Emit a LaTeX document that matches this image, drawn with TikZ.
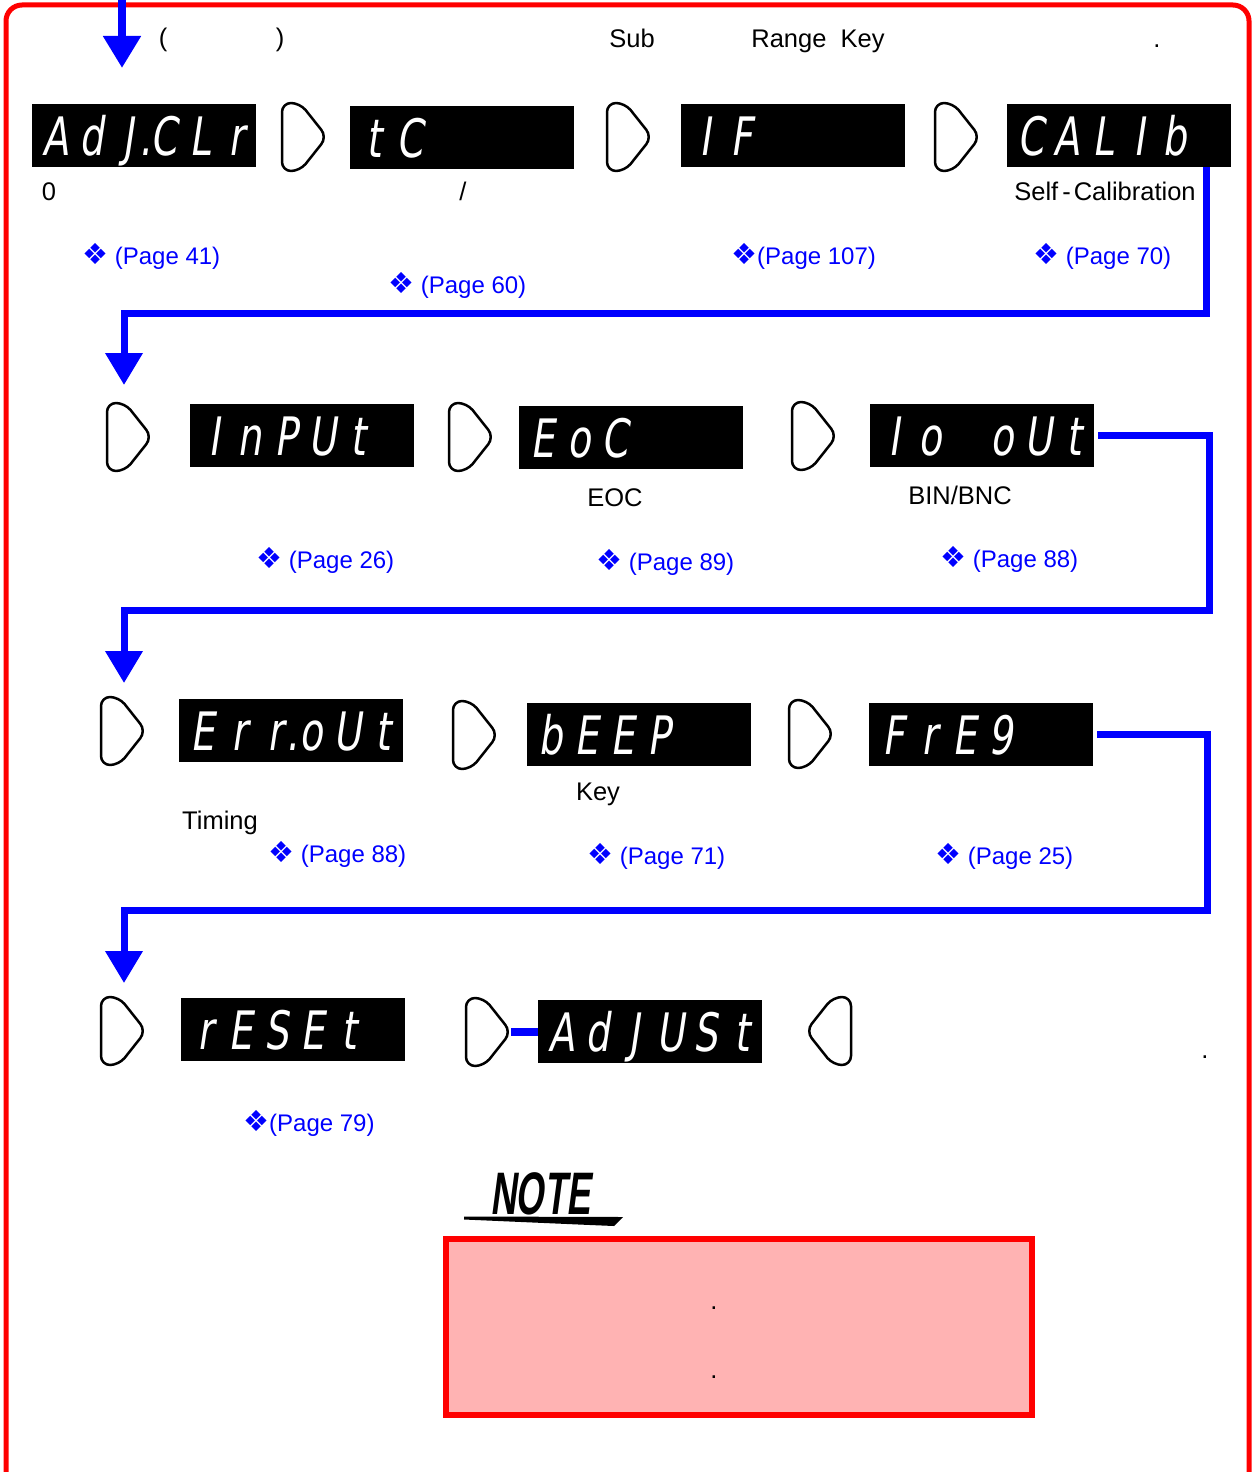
\documentclass[tikz,border=0pt]{standalone}
\usepackage{fontspec}
\setmainfont{Liberation Sans}
\newfontfamily\segfont{DejaVu Sans}[FakeSlant=0.15,FakeStretch=0.72]
\newfontfamily\symfont{DejaVu Sans}
\newfontfamily\notefont{Liberation Sans}[FakeSlant=0.22]
\usetikzlibrary{arrows.meta}
\definecolor{pblue}{RGB}{0,0,255}
\definecolor{pred}{RGB}{255,0,0}
\definecolor{ppink}{RGB}{255,179,179}
\def\sgl#1{\ifx#1\relax\else\ifx#1.\makebox[0pt][c]{.}\else\makebox[36pt][c]{#1}\fi\expandafter\sgl\fi}
\newcommand\segtxt[1]{\sgl#1\relax}
\newcommand\dia{{\symfont\fontsize{29}{29}\selectfont ❖}}
\begin{document}
\begin{tikzpicture}[x=1pt,y=-1pt,
  disp/.style={fill=black,text=white,anchor=north west,minimum width=224pt,minimum height=63pt,
    inner xsep=6pt,inner ysep=0pt,outer sep=0pt,text width=212pt,align=left,
    font=\segfont\fontsize{53}{53}\selectfont,text height=39pt,text depth=0pt},
  lbl/.style={anchor=base,inner sep=0pt,font=\fontsize{25.5}{28}\selectfont},
  pagelbl/.style={anchor=base west,inner sep=0pt,text=pblue,font=\fontsize{24}{28}\selectfont},
  flow/.style={draw=pblue,line width=7pt,-{Triangle[width=36pt,length=32pt]}},
  pentline/.style={line width=2.5pt,rounded corners=9pt,line join=round},
  pentR/.pic={\draw[pentline] (0,0) -- (18,0) -- (45,34) -- (18,68) -- (0,68) -- cycle;
    \coordinate (-tip) at (45,34);},
  pentL/.pic={\draw[pentline] (45,0) -- (27,0) -- (0,34) -- (27,68) -- (45,68) -- cycle;},
]
\useasboundingbox (0,0) rectangle (1255,1472);

% outer frame
\draw[pred,line width=5pt,rounded corners=16pt] (6,1490) -- (6,5) -- (1249,5) -- (1249,1490);

% top texts
\node[lbl] (lp) at (163,47) {(};
\node[lbl] (rp) at (280,47) {)};
\node[lbl] (sub) at (632,48) {Sub};
\node[lbl] (rk) at (818,48) {Range\ \ Key};
\node[lbl] (dot1) at (1157,48) {.};

% entry arrow
\coordinate (entry) at (122,-4);
\coordinate (adjin) at (122,68);
\draw[flow,line width=8pt] (entry) -- (adjin);

% row 1
\node[disp] (adjclr) at (32,104) {\segtxt{AdJ.CLr}};
\pic (p1) at (282,103) {pentR};
\node[disp] (tc) at (350,106) {\segtxt{tC}};
\pic (p2) at (607,103) {pentR};
\node[disp] (if) at (681,104) {\segtxt{IF}};
\pic (p3) at (935,103) {pentR};
\node[disp] (calib) at (1007,104) {\segtxt{CALIb}};

\node[lbl] (l0) at (49,200) {0};
\node[lbl] (lsl) at (463,200) {/};
\node[lbl] (lsc) at (1105,200) {Self\hspace{4pt}-\hspace{3pt}Calibration};
\node[pagelbl] (pg41) at (82,264) {\dia\ (Page 41)};
\node[pagelbl] (pg60) at (388,293) {\dia\ (Page 60)};
\node[pagelbl] (pg107) at (731,264) {\dia(Page 107)};
\node[pagelbl] (pg70) at (1033,264) {\dia\ (Page 70)};

% connector 1
\coordinate (r2in) at (124,385);
\draw[flow] ([xshift=-25pt]calib.south east) -- ++(0,146) -| (r2in);

% row 2
\pic (p4) at (107,403) {pentR};
\node[disp] (input) at (190,404) {\segtxt{InPUt}};
\pic (p5) at (449,403) {pentR};
\node[disp] (eoc) at (519,406) {\segtxt{EoC}};
\pic (p6) at (792,402) {pentR};
\node[disp] (ioout) at (870,404) {\segtxt{Io~oUt}};

\node[lbl] (leoc) at (615,506) {EOC};
\node[lbl] (lbin) at (960,504) {BIN/BNC};
\node[pagelbl] (pg26) at (256,568) {\dia\ (Page 26)};
\node[pagelbl] (pg89) at (596,570) {\dia\ (Page 89)};
\node[pagelbl] (pg88a) at (940,567) {\dia\ (Page 88)};

% connector 2
\coordinate (r3in) at (124,683);
\draw[flow] ([xshift=4pt]ioout.east) -- ++(111,0) -- ++(0,174.5) -| (r3in);

% row 3
\pic (p7) at (101,697) {pentR};
\node[disp] (errout) at (179,699) {\segtxt{Err.oUt}};
\pic (p8) at (453,701) {pentR};
\node[disp] (beep) at (527,703) {\segtxt{bEEP}};
\pic (p9) at (789,700) {pentR};
\node[disp] (freq) at (869,703) {\segtxt{FrE9}};

\node[lbl] (lkey) at (598,800) {Key};
\node[lbl] (ltim) at (220,829) {Timing};
\node[pagelbl] (pg88b) at (268,862) {\dia\ (Page 88)};
\node[pagelbl] (pg71) at (587,864) {\dia\ (Page 71)};
\node[pagelbl] (pg25) at (935,864) {\dia\ (Page 25)};

% connector 3
\coordinate (r4in) at (124,983);
\draw[flow] ([xshift=4pt]freq.east) -- ++(110,0) -- ++(0,176) -| (r4in);

% row 4
\pic (p10) at (101,997) {pentR};
\node[disp] (reset) at (181,998) {\segtxt{rESEt}};
\pic (p11) at (466,998) {pentR};
\node[disp] (adjust) at (538,1000) {\segtxt{AdJUSt}};
\pic (pl) at (806,997) {pentL};
\draw[draw=pblue,line width=8pt] (p11-tip) -- (p11-tip -| adjust.west);
\node[lbl] (dot2) at (1205,1058) {.};
\node[pagelbl] (pg79) at (243,1131) {\dia(Page 79)};

% NOTE
\node[inner sep=0pt] (note) at (540,1194) {\scalebox{0.6}[1]{\notefont\bfseries\fontsize{60}{60}\selectfont NOTE}};
\fill (464,1216.5) -- (623,1217) -- (614,1226) -- (590,1225) -- (464,1219.5) -- cycle;
\node[draw=pred,line width=6pt,fill=ppink,minimum width=586pt,minimum height=176pt,anchor=north west,inner sep=0pt,outer sep=0pt] (notebox) at (446,1239) {};
\node[lbl] (nd1) at (714,1309) {.};
\node[lbl] (nd2) at (714,1378) {.};
\end{tikzpicture}
\end{document}
